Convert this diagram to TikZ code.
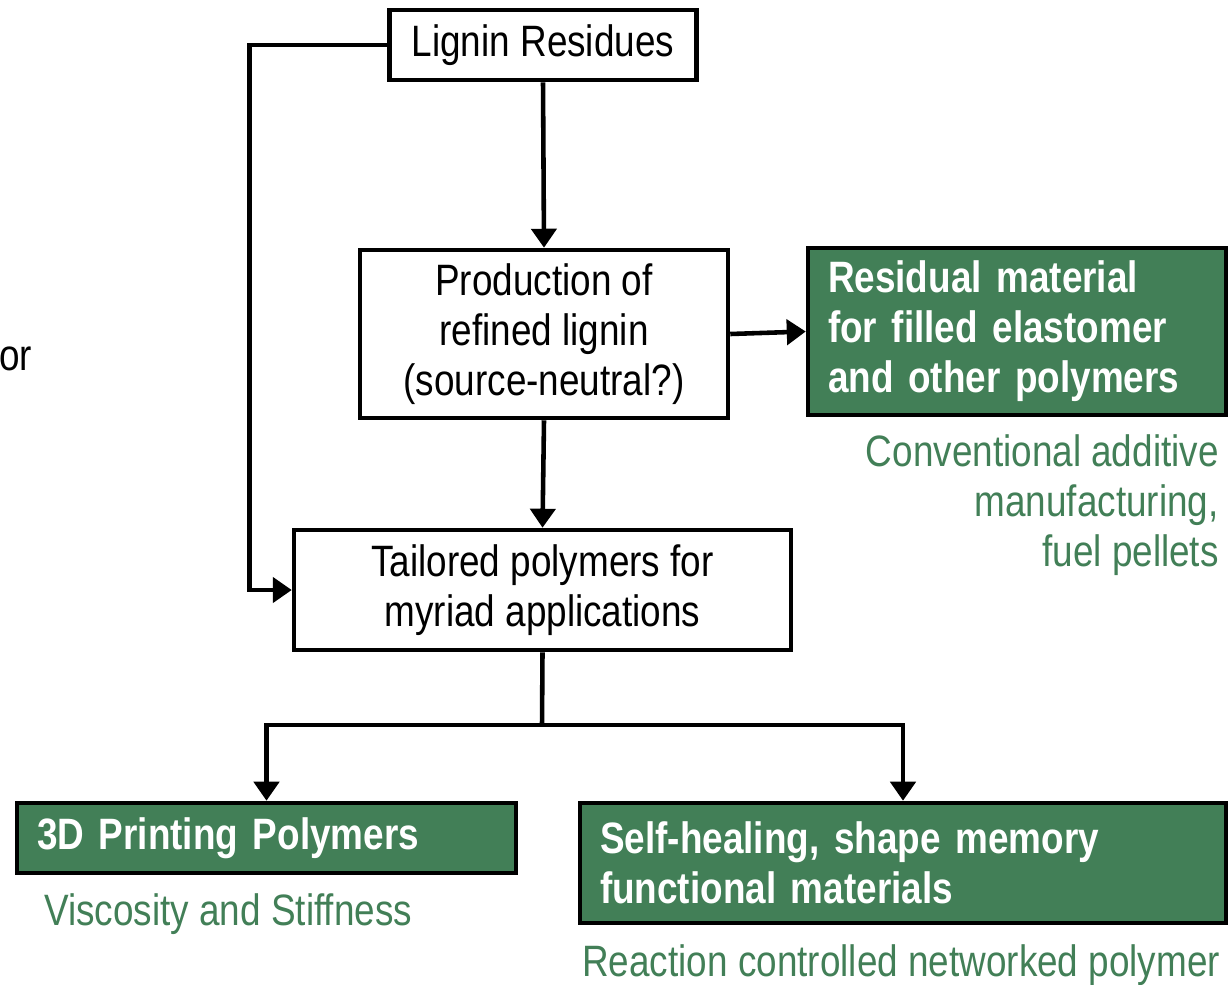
\documentclass[tikz,border=0pt]{standalone}
\usepackage{fontspec}
\setmainfont{Liberation Sans}[FakeStretch=0.84]
\usetikzlibrary{arrows.meta}
\definecolor{leafgreen}{RGB}{66,127,87}
\newcommand\boxspacing{\spaceskip=4.5pt plus 1pt minus 1pt\relax}

\begin{document}
\begin{tikzpicture}[x=0.02cm, y=-0.02cm, line width=2.6pt,
    >={Triangle[length=0.38cm, width=0.5cm]},
    box/.style={draw, line width=2.6pt, align=center, inner sep=0pt,
        font=\fontsize{25}{28.5}\selectfont},
    greenbox/.style={box, fill=leafgreen, text=white, align=left,
        inner xsep=0.4cm, font=\fontsize{25}{28.5}\selectfont\bfseries\boxspacing},
    note/.style={text=leafgreen, inner sep=0pt, font=\fontsize{25}{28.5}\selectfont}]
    \useasboundingbox (0,0) rectangle (1229,984);

    % Boxes
    \node[box, minimum width=6.14cm, minimum height=1.4cm] (lignin) at (543,45) {Lignin Residues};
    \node[box, minimum width=7.36cm, minimum height=3.36cm] (refined) at (544,334) {Production of\\refined lignin\\(source-neutral?)};
    \node[greenbox, text width=7.56cm, minimum height=3.34cm] (residual) at (1017,331.5) {Residual material\\for filled elastomer\\and other polymers};
    \node[box, minimum width=9.94cm, minimum height=2.4cm] (tailored) at (542.5,590) {Tailored polymers for\\myriad applications};
    \node[greenbox, text width=9.18cm, minimum height=1.4cm] (printing) at (266.5,838) {3D Printing Polymers};
    \node[greenbox, text width=12.12cm, minimum height=2.4cm] (healing) at (903,863) {Self-healing, shape memory\\functional materials};

    % Notes
    \node[note, align=right, anchor=east] (conv) at (1221,505) {Conventional additive\\manufacturing,\\fuel pellets};
    \node[note, anchor=west] (visc) at (42,914) {Viscosity and Stiffness};
    \node[note, anchor=west] (react) at (580,965) {Reaction controlled networked polymer};
    \node[inner sep=0pt, anchor=west, font=\fontsize{25}{28.5}\selectfont] (cut) at (-3,359) {or};

    % Arrows
    \draw[->] (lignin.south) -- (refined.north);
    \draw[->] (lignin.west) -- ++(-138,0) |- (tailored.west);
    \draw[->] (refined.east) -- (residual.west);
    \draw[->] (refined.south) -- (tailored.north);
    \coordinate (split) at (542,725);
    \draw (tailored.south) -- (split);
    \draw[->] (split) -| (printing.north);
    \draw[->] (split) -| (healing.north);
\end{tikzpicture}
\end{document}
